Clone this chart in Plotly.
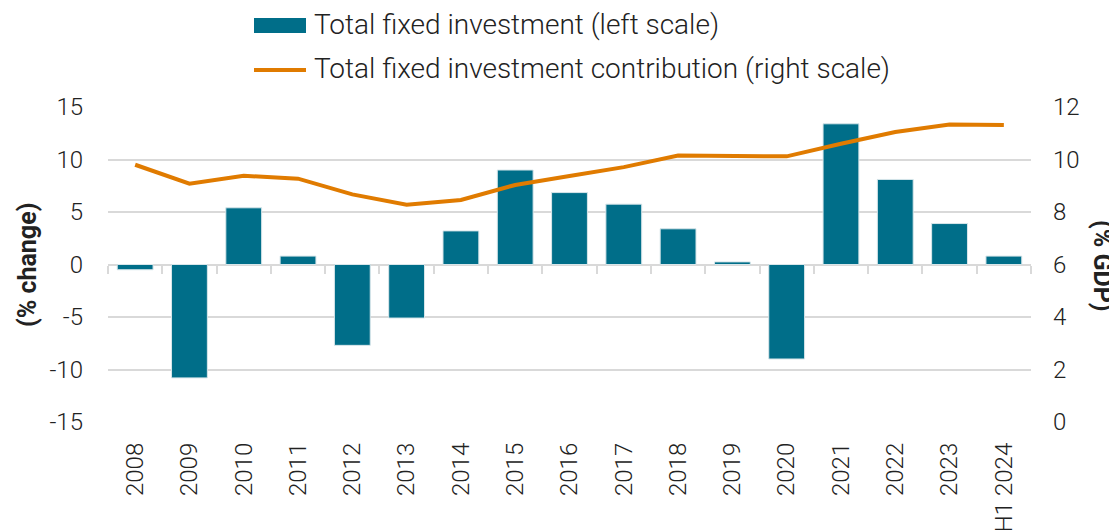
import plotly.graph_objects as go

years = ["2008", "2009", "2010", "2011", "2012", "2013", "2014", "2015", "2016",
         "2017", "2018", "2019", "2020", "2021", "2022", "2023", "H1 2024"]
investment_change = [-0.5, -10.8, 5.4, 0.8, -7.7, -5.1, 3.2, 9.0, 6.85,
                     5.75, 3.4, 0.25, -9.0, 13.4, 8.1, 3.9, 0.8]
investment_gdp = [9.8, 9.08, 9.38, 9.27, 8.67, 8.28, 8.46, 9.03, 9.37,
                  9.71, 10.15, 10.12, 10.12, 10.6, 11.05, 11.33, 11.31]
left_ticks = [-15, -10, -5, 0, 5, 10, 15]
left_tick_text = ["-15", "-10", "-5", "0", "5", "10", "15"]
right_ticks = [0, 2, 4, 6, 8, 10, 12]

bar_name = "Total fixed investment (left scale)"
line_name = "Total fixed investment contribution (right scale)"

BAR = "#006E89"
LINE = "#E07B00"
TXT = "#222222"
GRID = "#D9D9D9"
FONT = "Roboto"

# page body has an 8px margin, so the figure is drawn 8px in from the corner
OFF = 8
W, H = 1117 - OFF, 532 - OFF
ML, MT = 108 - OFF, 107 - OFF
MR = W - (1031 - OFF)
MB = H - (422 - OFF)
PW, PH = W - ML - MR, H - MT - MB


def px_x(x):
    """screen x (px) -> paper coordinate"""
    return (x - OFF - ML) / PW


def px_y(y):
    """screen y (px) -> paper coordinate"""
    return (H - MB - (y - OFF)) / PH


fig = go.Figure()
fig.add_trace(go.Bar(
    x=years, y=investment_change, name=bar_name,
    marker=dict(color=BAR, line=dict(color="#D8E6EA", width=1)),
    xaxis="x", yaxis="y", showlegend=False,
))
fig.add_trace(go.Scatter(
    x=years, y=investment_gdp, name=line_name,
    mode="lines", line=dict(color=LINE, width=4),
    xaxis="x2", yaxis="y2", showlegend=False,
))

tick_font = dict(size=24, family=FONT, weight=300, color=TXT)
legend_font = dict(size=28, family=FONT, weight=300, color=TXT)
title_font = dict(size=25, family=FONT, weight=700, color=TXT)
cat_range = [-0.5, len(years) - 0.5]

fig.update_layout(
    width=W, height=H,
    margin=dict(l=ML, r=MR, t=MT, b=MB, autoexpand=False),
    paper_bgcolor="white", plot_bgcolor="white",
    font=dict(family=FONT, color=TXT, size=22, weight=300),
    bargap=0.34,
    showlegend=False,
    xaxis=dict(
        type="category", range=cat_range, anchor="free", position=0.5,
        showgrid=False, showticklabels=False, showline=False,
        ticks="outside", tickson="boundaries", ticklen=8, tickcolor=GRID, tickwidth=1.5,
        automargin=False,
    ),
    xaxis2=dict(
        type="category", range=cat_range, overlaying="x", anchor="free", position=0,
        side="bottom", showgrid=False, showline=False, ticks="",
        tickangle=-90, tickfont=tick_font, ticklabelstandoff=15, automargin=False,
    ),
    yaxis=dict(
        range=[-15, 15], tickvals=left_ticks, ticktext=left_tick_text,
        showgrid=True, gridcolor=GRID, gridwidth=1.5,
        zeroline=True, zerolinecolor=GRID, zerolinewidth=1.5,
        tickfont=tick_font, ticklabelstandoff=24, automargin=False,
    ),
    yaxis2=dict(
        range=[0, 12], tickvals=right_ticks, overlaying="y", side="right", anchor="x2",
        showgrid=False, zeroline=False, tickfont=tick_font, ticklabelstandoff=21,
        automargin=False,
    ),
    shapes=[
        dict(type="rect", xref="paper", yref="paper",
             x0=px_x(254), x1=px_x(306), y0=px_y(33), y1=px_y(18),
             fillcolor=BAR, line=dict(width=0)),
        dict(type="line", xref="paper", yref="paper",
             x0=px_x(254), x1=px_x(306), y0=px_y(70), y1=px_y(70),
             line=dict(color=LINE, width=4)),
    ],
    annotations=[
        dict(text=bar_name, xref="paper", yref="paper", x=px_x(312), y=px_y(24),
             xanchor="left", yanchor="middle", showarrow=False, font=legend_font),
        dict(text=line_name, xref="paper", yref="paper", x=px_x(312), y=px_y(69),
             xanchor="left", yanchor="middle", showarrow=False, font=legend_font),
        dict(text="<b>(% change)</b>", xref="paper", yref="paper", x=px_x(27), y=px_y(265),
             xanchor="center", yanchor="middle", showarrow=False, textangle=-90,
             font=title_font),
        dict(text="<b>(% GDP)</b>", xref="paper", yref="paper", x=px_x(1103), y=px_y(266),
             xanchor="center", yanchor="middle", showarrow=False, textangle=90,
             font=title_font),
    ],
)

fig.write_html("out.html")
